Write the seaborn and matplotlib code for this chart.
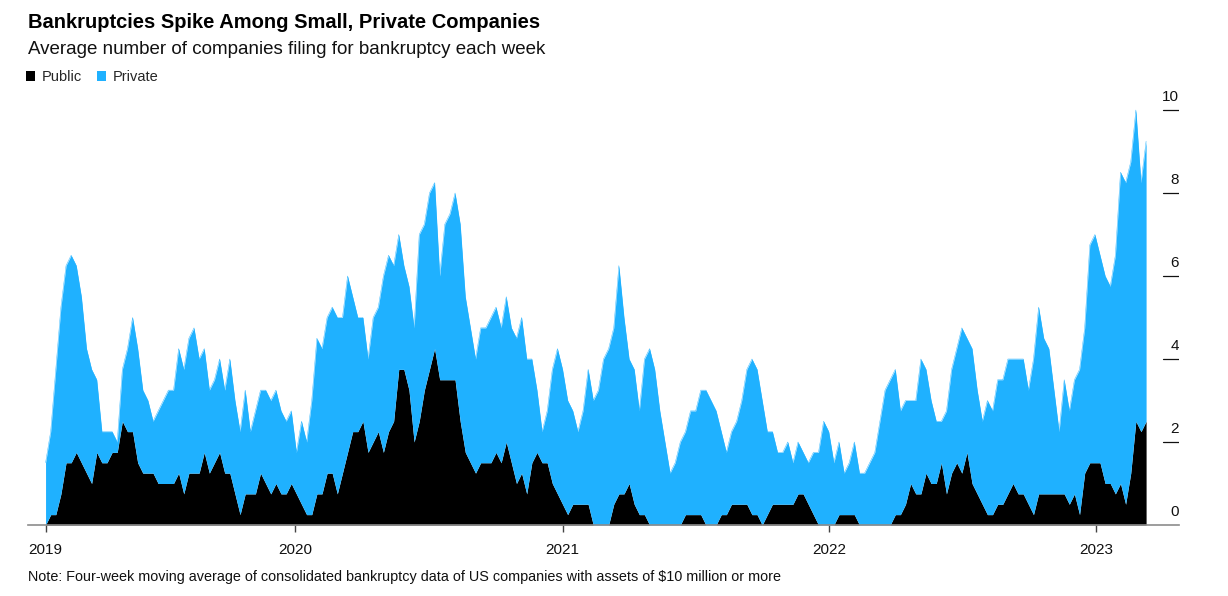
import numpy as np
import pandas as pd
import matplotlib
matplotlib.use("Agg")
import matplotlib.pyplot as plt
import matplotlib.dates as mdates
from matplotlib.patches import Patch
import seaborn as sns

# ---- data (four-week moving averages) ----
start_date = "2019-01-25"
n_weeks = 216

total_filings = [
    1.5, 2.25, 3.75, 5.25, 6.25, 6.5, 6.25, 5.5, 4.25, 3.75, 3.5, 2.25, 2.25, 2.25, 2.0, 3.75,
    4.25, 5.0, 4.25, 3.25, 3.0, 2.5, 2.75, 3.0, 3.25, 3.25, 4.25, 3.75, 4.5, 4.75, 4.0, 4.25,
    3.25, 3.5, 4.0, 3.25, 4.0, 3.0, 2.25, 3.25, 2.25, 2.75, 3.25, 3.25, 3.0, 3.25, 2.75, 2.5,
    2.75, 1.75, 2.5, 2.0, 3.0, 4.5, 4.25, 5.0,
    5.25, 5.0, 5.0, 6.0, 5.5, 5.0, 5.0, 4.0, 5.0, 5.25, 6.0, 6.5, 6.25, 7.0, 6.25, 5.75,
    4.75, 7.0, 7.25, 8.0, 8.25, 6.0, 7.25, 7.5, 8.0, 7.25, 5.5, 4.75, 4.0, 4.75, 4.75, 5.0,
    5.25, 4.75, 5.5, 4.75, 4.5, 5.0, 4.0, 4.0, 3.25, 2.25, 2.75, 3.75, 4.25, 3.75, 3.0, 2.75,
    2.25, 2.75, 3.75, 3.0, 3.25,
    4.0, 4.25, 4.75, 6.25, 5.0, 4.0, 3.75, 2.75, 4.0, 4.25, 3.75, 2.75, 2.0, 1.25, 1.5, 2.0,
    2.25, 2.75, 2.75, 3.25, 3.25, 3.0, 2.75, 2.25, 1.75, 2.25, 2.5,
    3.0, 3.75, 4.0, 3.75, 3.0, 2.25, 2.25, 1.75, 1.75, 2.0, 1.5, 2.0, 1.75, 1.5, 1.75, 1.75,
    2.5, 2.25, 1.5, 2.0, 1.25, 1.5, 2.0, 1.25, 1.25, 1.5,
    1.75, 2.5, 3.25, 3.5, 3.75, 2.75, 3.0, 3.0, 3.0, 4.0, 3.75, 3.0, 2.5, 2.5, 2.75, 3.75,
    4.25, 4.75, 4.5, 4.25, 3.25, 2.5, 3.0, 2.75, 3.5, 3.5,
    4.0, 4.0, 4.0, 4.0, 3.25, 4.0, 5.25, 4.5, 4.25, 3.25, 2.25, 3.5, 2.75, 3.5, 3.75, 4.75,
    6.75, 7.0, 6.5, 6.0, 5.75, 6.5, 8.5, 8.25, 8.75, 10.0, 8.25, 9.25,
]

public_filings = [
    0, 0.25, 0.25, 0.75, 1.5, 1.5, 1.75, 1.5, 1.25, 1.0, 1.75, 1.5, 1.5, 1.75, 1.75, 2.5,
    2.25, 2.25, 1.5, 1.25, 1.25, 1.25, 1.0, 1.0, 1.0, 1.0, 1.25, 0.75, 1.25, 1.25, 1.25, 1.75,
    1.25, 1.5, 1.75, 1.25, 1.25, 0.75, 0.25, 0.75, 0.75, 0.75, 1.25, 1.0, 0.75, 1.0, 0.75, 0.75,
    1.0, 0.75, 0.5, 0.25, 0.25, 0.75, 0.75, 1.25,
    1.25, 0.75, 1.25, 1.75, 2.25, 2.25, 2.5, 1.75, 2.0, 2.25, 1.75, 2.25, 2.5, 3.75, 3.75, 3.25,
    2.0, 2.5, 3.25, 3.75, 4.25, 3.5, 3.5, 3.5, 3.5, 2.5, 1.75, 1.5, 1.25, 1.5, 1.5, 1.5,
    1.75, 1.5, 2.0, 1.5, 1.0, 1.25, 0.75, 1.5, 1.75, 1.5, 1.5, 1.0, 0.75, 0.5, 0.25, 0.5,
    0.5, 0.5, 0.5, 0,
    0, 0, 0, 0.5, 0.75, 0.75, 1.0, 0.5, 0.25, 0.25, 0, 0, 0, 0, 0, 0,
    0, 0.25, 0.25, 0.25, 0.25, 0, 0, 0, 0.25, 0.25, 0.5, 0.5,
    0.5, 0.5, 0.25, 0.25, 0, 0.25, 0.5, 0.5, 0.5, 0.5, 0.5, 0.75, 0.75, 0.5, 0.25, 0,
    0, 0, 0, 0.25, 0.25, 0.25, 0.25, 0, 0, 0,
    0, 0, 0, 0, 0.25, 0.25, 0.5, 1.0, 0.75, 0.75, 1.25, 1.0, 1.0, 1.5, 0.75, 1.25,
    1.5, 1.25, 1.75, 1.0, 0.75, 0.5, 0.25, 0.25, 0.5, 0.5,
    0.75, 1.0, 0.75, 0.75, 0.5, 0.25, 0.75, 0.75, 0.75, 0.75, 0.75, 0.75, 0.5, 0.75, 0.25, 1.25,
    1.5, 1.5, 1.5, 1.0, 1.0, 0.75, 1.0, 0.5, 1.25, 2.5, 2.25, 2.5,
]

series_names = ["Public", "Private"]
year_labels = ["2019", "2020", "2021", "2022", "2023"]
year_tick_dates = ["2019-01-25", "2020-01-01", "2021-01-01", "2022-01-01", "2023-01-01"]
y_ticks = [0, 2, 4, 6, 8, 10]

title = "Bankruptcies Spike Among Small, Private Companies"
subtitle = "Average number of companies filing for bankruptcy each week"
note = ("Note: Four-week moving average of consolidated bankruptcy data of US companies "
        "with assets of $10 million or more")

# ---- build frame ----
dates = pd.date_range(start_date, periods=n_weeks, freq="7D")
df = pd.DataFrame({"date": dates, "public": public_filings, "total": total_filings})
df["private"] = df["total"] - df["public"]

# ---- style ----
sns.set_theme(style="white")
plt.rcParams["font.family"] = ["Liberation Sans", "DejaVu Sans"]

BLUE = "#1fb1ff"
BLACK = "#000000"
AXIS_GRAY = "#8c8c8c"

W, H = 1228, 596
fig = plt.figure(figsize=(W / 100, H / 100), dpi=100)
ax_left, ax_right, ax_bottom_px, ax_top_px = 28, 1179, 525, 89.25
ax = fig.add_axes([ax_left / W, 1 - ax_bottom_px / H,
                   (ax_right - ax_left) / W, (ax_bottom_px - ax_top_px) / H])

ax.stackplot(df["date"], df["public"], df["private"], colors=[BLACK, BLUE],
             linewidth=0, antialiased=True)
sns.lineplot(data=df, x="date", y="total", ax=ax, color=BLUE, linewidth=0.3, legend=False)

ax.set_xlim(pd.Timestamp("2019-01-01"), pd.Timestamp("2023-04-24"))
ax.set_ylim(0, 10.5)
ax.set_xlabel("")
ax.set_ylabel("")

# spines
for s in ["top", "right", "left"]:
    ax.spines[s].set_visible(False)
ax.spines["bottom"].set_color(AXIS_GRAY)
ax.spines["bottom"].set_linewidth(1.2)

# x ticks
ax.set_xticks(pd.to_datetime(year_tick_dates))
ax.set_xticklabels(year_labels)
ax.tick_params(axis="x", which="both", bottom=True, length=5, width=1, color="#444444",
               labelsize=11, labelcolor="#111111", pad=8)
ax.set_yticks([])

# y ticks on right: short line with label above
x0_frac = (1163 - ax_left) / (ax_right - ax_left)
for v in y_ticks:
    if v > 0:
        ax.axhline(v, xmin=x0_frac, xmax=1.0, color="#111111", linewidth=0.9)
    ax.text(1.0, v + 0.14, str(v), transform=ax.get_yaxis_transform(), ha="right",
            va="bottom", fontsize=11, color="#111111")

# titles
fig.text(28 / W, 1 - 22 / H, title, fontsize=14.5, fontweight="bold", color="#000000",
         va="center", ha="left")
fig.text(28 / W, 1 - 49 / H, subtitle, fontsize=13.5, color="#111111", va="center", ha="left")
fig.text(28 / W, 1 - 577 / H, note, fontsize=10.4, color="#111111", va="center", ha="left")

# legend
handles = [Patch(facecolor=BLACK, edgecolor="none"), Patch(facecolor=BLUE, edgecolor="none")]
fig.legend(handles, series_names, loc="center left", bbox_to_anchor=(26 / W, 1 - 77 / H),
           ncol=2, frameon=False, fontsize=10.5, handlelength=0.65, handleheight=0.65,
           handletextpad=0.45, columnspacing=1.0, borderpad=0, borderaxespad=0)

fig.savefig("out.png", dpi=100)
